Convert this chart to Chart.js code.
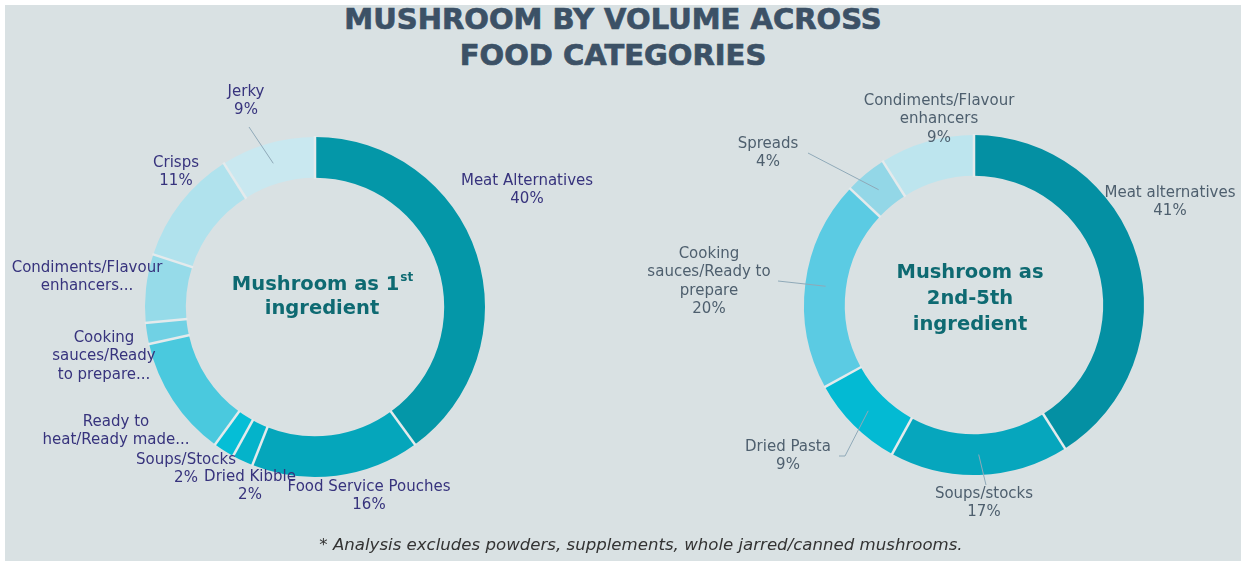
<!DOCTYPE html>
<html>
<head>
<meta charset="utf-8">
<title>Mushroom by volume across food categories</title>
<script src="https://cdn.jsdelivr.net/npm/chart.js@4.4.0/dist/chart.umd.min.js"></script>
<style>
    body { margin: 0; width: 1245px; height: 561px; background: #ffffff; overflow: hidden; font-family: 'DejaVu Sans', sans-serif; }
    #panel { position: absolute; left: 5px; top: 5px; width: 1236px; height: 556px; background: #d9e1e3; }
    #title { position: absolute; left: 0; top: 1px; width: 1226px; text-align: center; color: #3c5166;
             font-weight: bold; font-size: 29px; line-height: 36px; -webkit-text-stroke: 0.7px #3c5166; }
    #note { position: absolute; left: 0; top: 535px; width: 1282px; text-align: center; color: #333333;
            font-style: italic; font-size: 16.6px; line-height: 20px; }
    .box { position: absolute; top: 70px; width: 620px; height: 470px; }
</style>
</head>
<body>
<div id="panel"></div>
<div id="title">MUSHROOM BY VOLUME ACROSS<br>FOOD CATEGORIES</div>
<div class="box" style="left: 0px;"><canvas id="firstChart" width="620" height="470"></canvas></div>
<div class="box" style="left: 625px;"><canvas id="otherChart" width="620" height="470"></canvas></div>
<div id="note">* Analysis excludes powders, supplements, whole jarred/canned mushrooms.</div>

<script>
// Mushroom as 1st ingredient
const firstCategories = ['Meat Alternatives', 'Food Service Pouches', 'Dried Kibble', 'Soups/Stocks',
    'Ready to\nheat/Ready made...', 'Cooking\nsauces/Ready\nto prepare...', 'Condiments/Flavour\nenhancers...',
    'Crisps', 'Jerky'];
const firstShares = [40, 16, 2, 2, 11.5, 2, 6.5, 11, 9];
const firstShowShare = [true, true, true, true, false, false, false, true, true];

// Mushroom as 2nd-5th ingredient
const otherCategories = ['Meat alternatives', 'Soups/stocks', 'Dried Pasta', 'Cooking\nsauces/Ready to\nprepare',
    'Spreads', 'Condiments/Flavour\nenhancers'];
const otherShares = [41, 17, 9, 20, 4, 9];
const otherShowShare = [true, true, true, true, true, true];

const firstColors = ['#0497a8', '#05a6bb', '#04b3ca', '#05bed6', '#4ac9de', '#70d1e4', '#96dbe9', '#b0e2ed', '#c9e8f0'];
const otherColors = ['#0490a3', '#06a6bd', '#03bad3', '#5bcbe3', '#93d7e7', '#bde5ee'];

// Label anchors (offset from the ring centre) and leader line starts
const firstLabelPos = [[212, -126], [54, 180], [-65, 170], [-129, 153], [-199, 115], [-211, 31], [-228, -39], [-139, -144], [-69, -215]];
const firstLeaders = [null, null, null, null, null, null, null, null, [[-66, -180]]];
const otherLabelPos = [[196, -112], [10, 189], [-186, 142], [-265, -51], [-206, -161], [-35, -204]];
const otherLeaders = [null, [[12, 180]], [[-135, 151], [-129, 151]], [[-196, -24]], [[-166, -152]], null];

function buildLabels(categories, shares, showShare) {
    return categories.map((c, i) => {
        const lines = c.split('\n');
        if (showShare[i]) lines.push(shares[i] + '%');
        return lines;
    });
}

// Draws slice separators, labels, leader lines and the text in the hole
const sliceLabels = {
    id: 'sliceLabels',
    afterDraw(chart, args, opts) {
        const ctx = chart.ctx;
        const arcs = chart.getDatasetMeta(0).data;
        if (!arcs.length) return;
        const cx = arcs[0].x, cy = arcs[0].y;
        const outer = arcs[0].outerRadius, inner = arcs[0].innerRadius;
        const midR = (outer + inner) / 2;

        ctx.save();
        // thin gaps between slices
        ctx.strokeStyle = opts.gapColor;
        ctx.lineWidth = 2.5;
        arcs.forEach(arc => {
            const a = arc.startAngle;
            ctx.beginPath();
            ctx.moveTo(cx + Math.cos(a) * (inner - 1), cy + Math.sin(a) * (inner - 1));
            ctx.lineTo(cx + Math.cos(a) * (outer + 1), cy + Math.sin(a) * (outer + 1));
            ctx.stroke();
        });

        // leader lines
        ctx.strokeStyle = opts.leaderColor;
        ctx.lineWidth = 1;
        arcs.forEach((arc, i) => {
            const pts = opts.leaders[i];
            if (!pts) return;
            const mid = (arc.startAngle + arc.endAngle) / 2;
            ctx.beginPath();
            ctx.moveTo(cx + pts[0][0], cy + pts[0][1]);
            for (let k = 1; k < pts.length; k++) ctx.lineTo(cx + pts[k][0], cy + pts[k][1]);
            ctx.lineTo(cx + Math.cos(mid) * midR, cy + Math.sin(mid) * midR);
            ctx.stroke();
        });

        // slice labels
        ctx.fillStyle = opts.color;
        ctx.font = opts.font;
        ctx.textAlign = 'center';
        ctx.textBaseline = 'middle';
        opts.labels.forEach((lines, i) => {
            const p = opts.positions[i];
            lines.forEach((t, k) => ctx.fillText(t, cx + p[0], cy + p[1] + k * opts.lineHeight));
        });

        // text in the hole
        const c = opts.center;
        ctx.fillStyle = c.color;
        ctx.font = c.font;
        c.lines.forEach((line, k) => {
            const y = cy + c.top + k * c.lineHeight;
            if (line.sup) {
                ctx.font = c.font;
                const w1 = ctx.measureText(line.text).width;
                ctx.font = c.supFont;
                const w2 = ctx.measureText(line.sup).width;
                const x0 = cx + c.dx - (w1 + w2) / 2;
                ctx.textAlign = 'left';
                ctx.font = c.font;
                ctx.fillText(line.text, x0, y);
                ctx.font = c.supFont;
                ctx.fillText(line.sup, x0 + w1 + 1, y - 7);
                ctx.textAlign = 'center';
                ctx.font = c.font;
            } else {
                ctx.fillText(line.text, cx + c.dx, y);
            }
        });
        ctx.restore();
    }
};

function makeDonut(canvasId, categories, shares, colors, padding, labelOpts) {
    return new Chart(document.getElementById(canvasId), {
        type: 'doughnut',
        data: {
            labels: categories,
            datasets: [{
                data: shares,
                backgroundColor: colors,
                borderWidth: 0
            }]
        },
        options: {
            responsive: false,
            animation: false,
            cutout: '76%',
            layout: { padding: padding },
            plugins: {
                legend: { display: false },
                tooltip: { enabled: false },
                sliceLabels: labelOpts
            }
        },
        plugins: [sliceLabels]
    });
}

makeDonut('firstChart', firstCategories, firstShares, firstColors,
    { left: 145, right: 135, top: 67, bottom: 63 },
    {
        labels: buildLabels(firstCategories, firstShares, firstShowShare),
        positions: firstLabelPos,
        leaders: firstLeaders,
        gapColor: '#e4eaec',
        leaderColor: '#8fa9b8',
        color: '#37337d',
        font: '15px "DejaVu Sans"',
        lineHeight: 18.5,
        center: {
            color: '#0e6a72',
            font: 'bold 19.5px "DejaVu Sans"',
            supFont: 'bold 12px "DejaVu Sans"',
            dx: 7, top: -22, lineHeight: 24,
            lines: [{ text: 'Mushroom as 1', sup: 'st' }, { text: 'ingredient' }]
        }
    });

makeDonut('otherChart', otherCategories, otherShares, otherColors,
    { left: 179, right: 101, top: 65, bottom: 65 },
    {
        labels: buildLabels(otherCategories, otherShares, otherShowShare),
        positions: otherLabelPos,
        leaders: otherLeaders,
        gapColor: '#e4eaec',
        leaderColor: '#8fa9b8',
        color: '#4e5f6e',
        font: '15px "DejaVu Sans"',
        lineHeight: 18.5,
        center: {
            color: '#0e6a72',
            font: 'bold 19.5px "DejaVu Sans"',
            supFont: 'bold 12px "DejaVu Sans"',
            dx: -4, top: -32, lineHeight: 26,
            lines: [{ text: 'Mushroom as' }, { text: '2nd-5th' }, { text: 'ingredient' }]
        }
    });
</script>
</body>
</html>
